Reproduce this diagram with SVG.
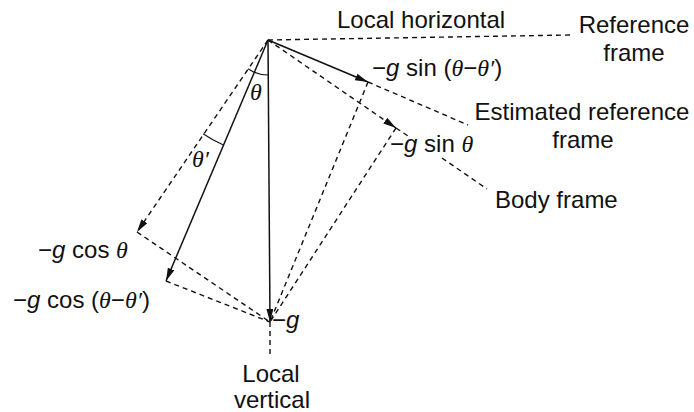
<svg xmlns="http://www.w3.org/2000/svg" width="694" height="412" viewBox="0 0 694 412">
<style>
.t{font-family:"Liberation Sans",Arial,sans-serif;font-size:24px;fill:#111}
.g{font-style:italic}
.th{font-family:"Liberation Serif","Times New Roman",serif;font-style:italic}
.s{fill:none;stroke:#111;stroke-width:1.5}
.d{fill:none;stroke:#111;stroke-width:1.4;stroke-dasharray:5 4}
.a{fill:none;stroke:#111;stroke-width:1.1}
</style>
<defs>
<marker id="arr" viewBox="0 0 13 7" refX="13" refY="3.5" markerWidth="13" markerHeight="7" orient="auto" markerUnits="userSpaceOnUse">
<path d="M0,0 L13,3.5 L0,7 z" fill="#111" stroke="none"/>
</marker>
</defs>
<g id="connectors">
<g id="axes">
<path class="d" d="M268,40 L570,35"/>
<path class="d" d="M270,322 L270,358"/>
<path class="d" d="M368,82 L468,125"/>
<path class="d" d="M396,128 L408,136"/>
<path class="d" d="M442,158 L487,189"/>
</g>
<g id="vectors">
<path class="s" d="M268,40 L270,322" marker-end="url(#arr)"/>
<path class="s" d="M268,40 L368,82" marker-end="url(#arr)"/>
<path class="d" d="M268,40 L396,128" marker-end="url(#arr)"/>
<path class="d" d="M268,40 L137,232" marker-end="url(#arr)"/>
<path class="s" d="M268,40 L166,281" marker-end="url(#arr)"/>
</g>
<g id="projections">
<path class="d" d="M137,232 L270,322"/>
<path class="d" d="M166,281 L270,322"/>
<path class="d" d="M368,82 L270,322"/>
<path class="d" d="M396,128 L270,322"/>
</g>
<g id="angles">
<path class="a" d="M268.6,75 A35,35 0 0 1 248.1,68.8"/>
<path class="a" d="M223.4,144.9 A114,114 0 0 1 203.1,133.7"/>
</g>
</g>
<g id="labels">
<text class="t" x="337" y="28">Local horizontal</text>
<g id="reference-frame"><text class="t" x="634" y="33" text-anchor="middle">Reference</text><text class="t" x="634" y="61" text-anchor="middle">frame</text></g>
<g id="estimated-frame"><text class="t" x="582" y="120" text-anchor="middle">Estimated reference</text><text class="t" x="583" y="148" text-anchor="middle">frame</text></g>
<text id="body-frame" class="t" x="495" y="208">Body frame</text>
<text class="t" x="372" y="76">−<tspan class="g">g</tspan> sin (<tspan class="th">θ</tspan>−<tspan class="th">θ′</tspan>)</text>
<text class="t" x="390" y="152">−<tspan class="g">g</tspan> sin <tspan class="th">θ</tspan></text>
<text class="t" x="38" y="258">−<tspan class="g">g</tspan> cos <tspan class="th">θ</tspan></text>
<text class="t" x="13" y="308">−<tspan class="g">g</tspan> cos (<tspan class="th">θ</tspan>−<tspan class="th">θ′</tspan>)</text>
<text class="t" x="272" y="328">−<tspan class="g">g</tspan></text>
<g id="local-vertical"><text class="t" x="271" y="382" text-anchor="middle" font-size="22">Local</text><text class="t" x="272" y="408" text-anchor="middle" font-size="22">vertical</text></g>
<text class="t th" x="250" y="100" font-size="21">θ</text>
<text class="t th" x="192" y="167" font-size="21">θ′</text>
</g>
</svg>
